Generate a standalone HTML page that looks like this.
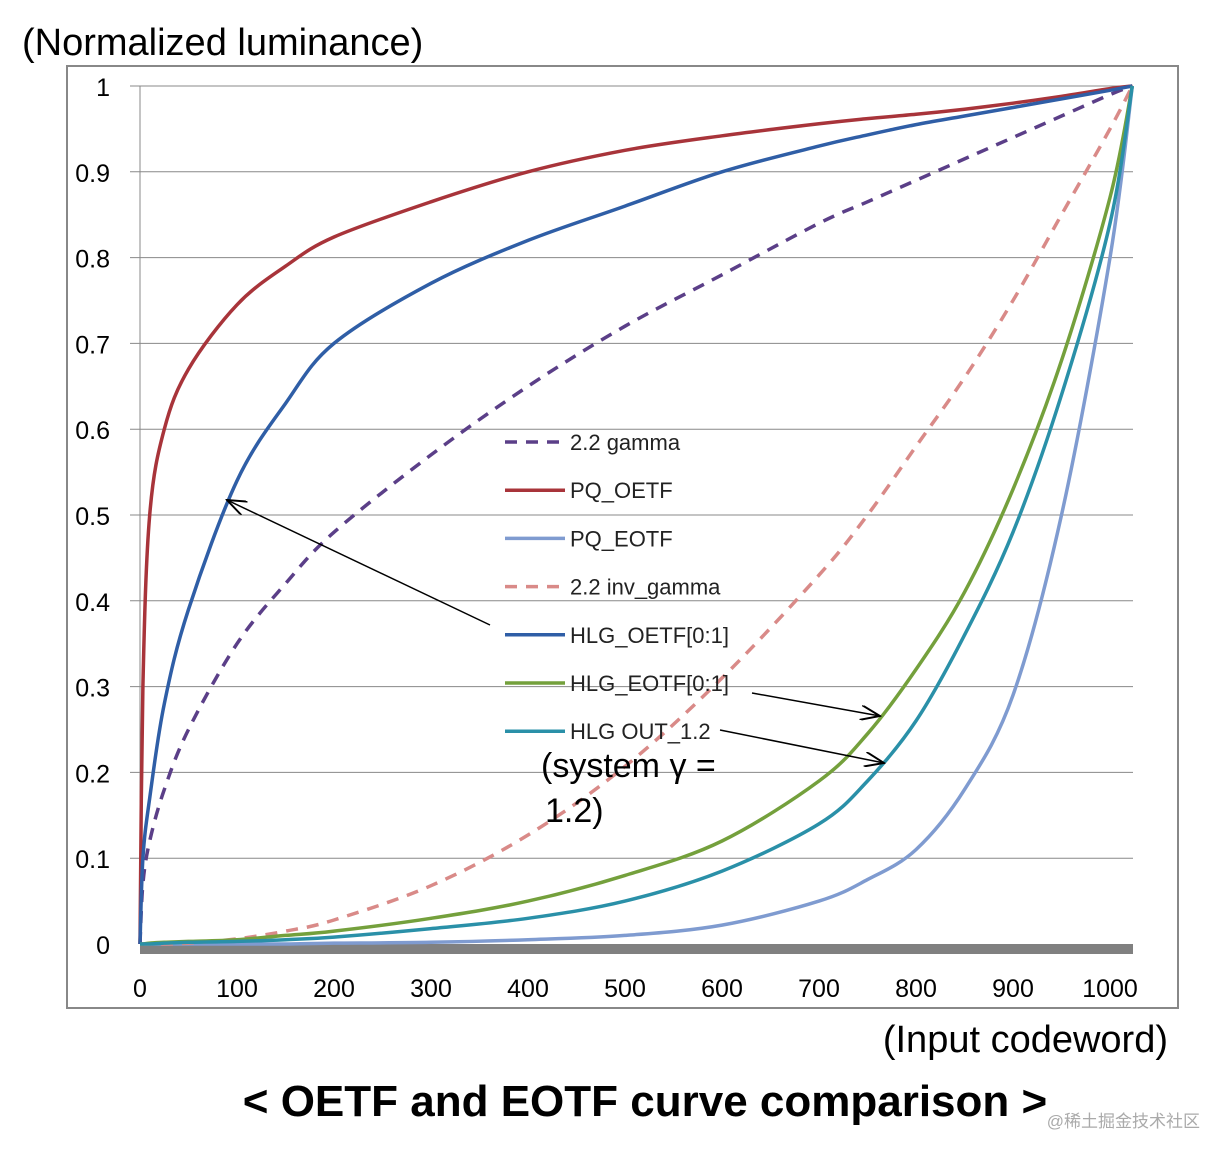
<!DOCTYPE html>
<html><head><meta charset="utf-8"><style>
body{margin:0;background:#fff;}
svg text{font-family:"Liberation Sans","Noto Sans CJK SC",sans-serif;}
</style></head><body>
<svg width="1230" height="1160" viewBox="0 0 1230 1160">
<text x="22" y="55" font-size="38">(Normalized luminance)</text>
<rect x="67" y="66" width="1111" height="942" fill="none" stroke="#888" stroke-width="2"/>
<g id="grid"></g>
<rect x="140" y="944" width="993" height="10" fill="#808080"/>
<g id="ylabels"></g><g id="xlabels"></g>
<g id="series"></g>
<g id="legend"></g>
<defs><marker id="ah" markerWidth="14" markerHeight="10" refX="13" refY="5" orient="auto"><path d="M0,0 L13,5 L0,10" fill="none" stroke="#000" stroke-width="1.3"/></marker></defs>
<line x1="490" y1="625" x2="227" y2="500" stroke="#000" stroke-width="1.5" marker-end="url(#ah)"/>
<line x1="752" y1="693" x2="880" y2="716" stroke="#000" stroke-width="1.5" marker-end="url(#ah)"/>
<line x1="720" y1="730" x2="884" y2="763" stroke="#000" stroke-width="1.5" marker-end="url(#ah)"/>
<text x="541" y="777" font-size="34">(system γ =</text>
<text x="545" y="822" font-size="34">1.2)</text>
<text x="1168" y="1052" font-size="38" text-anchor="end">(Input codeword)</text>
<text x="645" y="1116" font-size="44" font-weight="bold" text-anchor="middle">&lt; OETF and EOTF curve comparison &gt;</text>
<text x="1200" y="1127" font-size="17" fill="#aaa" text-anchor="end">@稀土掘金技术社区</text>
</svg>
<script>
const xTicks=[0,100,200,300,400,500,600,700,800,900,1000];
const yTicks=[0,0.1,0.2,0.3,0.4,0.5,0.6,0.7,0.8,0.9,1];
const yTickLabels=["0","0.1","0.2","0.3","0.4","0.5","0.6","0.7","0.8","0.9","1"];
const codes=[0,3,10,25,50,100,150,200,300,400,500,600,700,750,800,850,900,950,1000,1023];
const gamma22=[0,0.07,0.12,0.18,0.25,0.35,0.42,0.48,0.57,0.65,0.72,0.78,0.84,0.865,0.89,0.915,0.94,0.965,0.99,1];
const pqOetf=[0,0.3,0.5,0.6,0.67,0.745,0.79,0.824,0.865,0.9,0.925,0.942,0.956,0.962,0.967,0.973,0.98,0.988,0.997,1];
const pqEotf=[0,0,0,0,0,0,0,0.001,0.002,0.005,0.01,0.022,0.05,0.075,0.11,0.18,0.29,0.5,0.8,1];
const invGamma22=[0,0,0,0,0.001,0.006,0.015,0.028,0.068,0.127,0.207,0.31,0.43,0.5,0.58,0.66,0.75,0.85,0.95,1];
const hlgOetf=[0,0.1,0.17,0.28,0.39,0.54,0.63,0.7,0.77,0.82,0.86,0.9,0.93,0.943,0.955,0.965,0.975,0.985,0.995,1];
const hlgEotf=[0,0,0.001,0.002,0.003,0.005,0.01,0.015,0.03,0.05,0.08,0.12,0.19,0.245,0.32,0.41,0.53,0.68,0.87,1];
const hlgOut=[0,0,0,0.001,0.002,0.003,0.005,0.008,0.018,0.03,0.05,0.085,0.14,0.19,0.26,0.36,0.48,0.64,0.84,1];
const seriesNames=["2.2 gamma","PQ_OETF","PQ_EOTF","2.2 inv_gamma","HLG_OETF[0:1]","HLG_EOTF[0:1]","HLG OUT_1.2"];
const seriesData=[gamma22,pqOetf,pqEotf,invGamma22,hlgOetf,hlgEotf,hlgOut];
const colors=["#5b3f88","#a8343a","#7f9bd0","#d98a88","#2f5ea6","#74a03c","#2a90a8"];
const dashed=[true,false,false,true,false,false,false];
const NS="http://www.w3.org/2000/svg";
const xs=v=>140+v*0.97, ys=v=>944-v*858;
function mk(t,a,p){const e=document.createElementNS(NS,t);for(const k in a)e.setAttribute(k,a[k]);p.appendChild(e);return e;}
function smooth(P){let d='M'+P[0][0].toFixed(1)+','+P[0][1].toFixed(1);
for(let i=0;i<P.length-1;i++){const p0=P[Math.max(0,i-1)],p1=P[i],p2=P[i+1],p3=P[Math.min(P.length-1,i+2)];
const c1=[p1[0]+(p2[0]-p0[0])/6,p1[1]+(p2[1]-p0[1])/6],c2=[p2[0]-(p3[0]-p1[0])/6,p2[1]-(p3[1]-p1[1])/6];
d+=' C'+c1.map(v=>v.toFixed(1)).join(',')+' '+c2.map(v=>v.toFixed(1)).join(',')+' '+p2.map(v=>v.toFixed(1)).join(',');}
return d;}
const grid=document.getElementById('grid');
yTicks.forEach((t,i)=>{if(t===0)return;const l=mk('line',{x1:130,x2:1133,y1:ys(t),y2:ys(t),stroke:'#888','stroke-width':1},grid);

});
const vl=mk('line',{x1:140,x2:140,y1:ys(1),y2:944,stroke:'#888'},grid);


const yl=document.getElementById('ylabels');
yTicks.forEach((t,i)=>{const e=mk('text',{x:110,y:ys(t)+10,'font-size':25,'text-anchor':'end'},yl);e.textContent=yTickLabels[i];

});
const xl=document.getElementById('xlabels');
xTicks.forEach(t=>{const e=mk('text',{x:xs(t),y:997,'font-size':25,'text-anchor':'middle'},xl);e.textContent=String(t);

});
const sg=document.getElementById('series');
seriesData.forEach((d,i)=>{const P=d.map((v,j)=>[xs(codes[j]),ys(v)]);
const p=mk('path',{d:smooth(P),fill:'none',stroke:colors[i],'stroke-width':3.5,'stroke-linejoin':'round'},sg);
if(dashed[i])p.setAttribute('stroke-dasharray','12,9');

});
const lg=document.getElementById('legend');
seriesNames.forEach((n,i)=>{const y=442+i*48.2;
const l=mk('line',{x1:505,x2:565,y1:y,y2:y,stroke:colors[i],'stroke-width':3.5},lg);
if(dashed[i])l.setAttribute('stroke-dasharray','12,9');


const t=mk('text',{x:570,y:y+8,'font-size':22,fill:'#222'},lg);t.textContent=n;

});
</script>
</body></html>
